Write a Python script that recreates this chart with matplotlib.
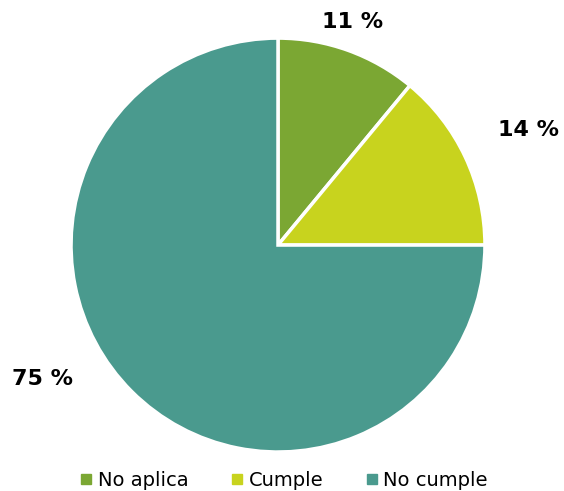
import matplotlib.pyplot as plt
from matplotlib.lines import Line2D
import numpy as np

categorias = ["No aplica", "Cumple", "No cumple"]
porcentajes = [11, 14, 75]
colores = ["#7BA733", "#C8D31E", "#4A9A8E"]

# posicion de las etiquetas (angulo en grados, distancia al centro)
pos_etiquetas = [(71.5, 1.135), (24.6, 1.33), (209.7, 1.31)]

fig = plt.figure(figsize=(5.64, 4.91), dpi=100)
ax = fig.add_axes([0.1259, 0.0794, 0.7340, 0.843])

wedges, _ = ax.pie(porcentajes, colors=colores, startangle=90, counterclock=False,
                   radius=1, wedgeprops=dict(edgecolor="white", linewidth=2.5))
ax.set_xlim(-1, 1)
ax.set_ylim(-1, 1)
ax.set_aspect("equal")
ax.axis("off")

for valor, (ang, dist) in zip(porcentajes, pos_etiquetas):
    a = np.radians(ang)
    ax.text(dist * np.cos(a), dist * np.sin(a), f"{valor} %", ha="center", va="center",
            fontsize=16, fontweight="bold", family="DejaVu Sans", clip_on=False)

# leyenda
handles = [Line2D([0], [0], marker="s", linestyle="", markersize=7, markerfacecolor=c,
                  markeredgecolor=c) for c in colores]
fig.legend(handles, categorias, loc="center", bbox_to_anchor=(0.5, 0.022), ncol=3,
           frameon=False, handletextpad=0.1, columnspacing=2.0,
           handlelength=1.0, prop={"family": "DejaVu Sans", "size": 14})

fig.savefig("out.png", dpi=100)
